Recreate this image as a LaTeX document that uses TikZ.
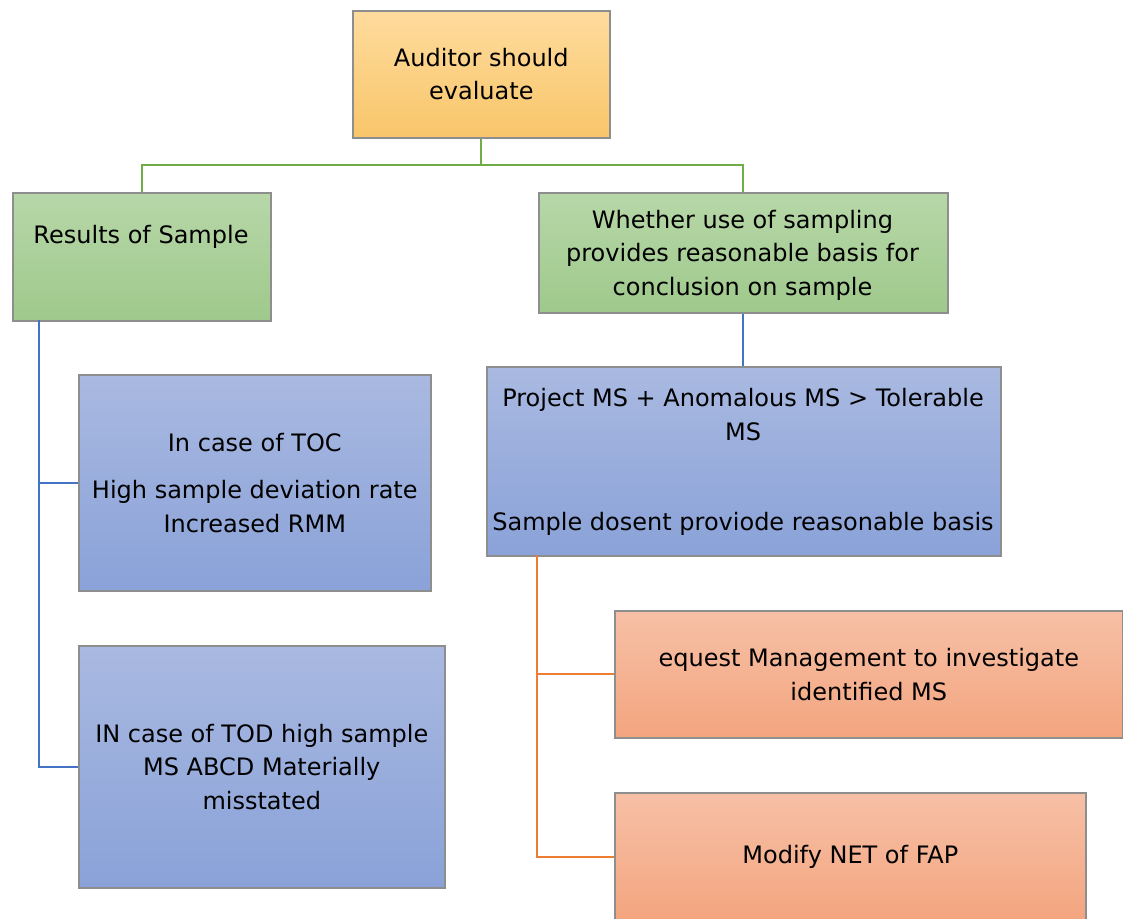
\documentclass[tikz,border=0pt]{standalone}
\usepackage{fontspec}
\setmainfont{DejaVu Sans}
\definecolor{boxline}{HTML}{8E8E8E}
\definecolor{ytop}{HTML}{FFDB9D}
\definecolor{ybot}{HTML}{F8C66A}
\definecolor{gtop}{HTML}{B7D7A8}
\definecolor{gbot}{HTML}{9FC98C}
\definecolor{btop}{HTML}{A9B9E1}
\definecolor{bbot}{HTML}{8AA2D8}
\definecolor{otop}{HTML}{F7C0A6}
\definecolor{obot}{HTML}{F3A57F}
\definecolor{gline}{HTML}{70AD47}
\definecolor{bline}{HTML}{4472C4}
\definecolor{oline}{HTML}{ED7D31}
\begin{document}
\begin{tikzpicture}[x=1pt,y=-1pt,
  box/.style={draw=boxline, line width=1.6pt, inner sep=0pt, anchor=north west},
  ybox/.style={box, top color=ytop, bottom color=ybot},
  gbox/.style={box, top color=gtop, bottom color=gbot},
  bbox/.style={box, top color=btop, bottom color=bbot},
  obox/.style={box, top color=otop, bottom color=obot},
  txt/.style={inner sep=0pt, align=center, font=\fontsize{24}{33.5}\selectfont},
  link/.style={line width=2pt}]
\useasboundingbox (0,0) rectangle (1123,918);
\clip (0,0) rectangle (1123,918);

% boxes
\node[ybox, minimum width=257pt, minimum height=127pt] (top) at (352,10) {};
\node[gbox, minimum width=258pt, minimum height=128pt] (res) at (12,192) {};
\node[gbox, minimum width=409pt, minimum height=120pt] (whe) at (538,192) {};
\node[bbox, minimum width=352pt, minimum height=216pt] (toc) at (78,374) {};
\node[bbox, minimum width=366pt, minimum height=242pt] (tod) at (78,645) {};
\node[bbox, minimum width=514pt, minimum height=189pt] (pro) at (486,366) {};
\node[obox, minimum width=508pt, minimum height=127pt] (req) at (614,610) {};
\node[obox, minimum width=471pt, minimum height=128pt] (mod) at (614,792) {};

% texts
\node[txt] (ttop) at (top.center) {Auditor should\\evaluate};
\node[txt] (tres) at (141,237) {Results of Sample};
\node[txt] (twhe) at (742.5,255) {Whether use of sampling\\provides reasonable basis for\\conclusion on sample};
\node[txt] (ttoc) at (toc.center) {In case of TOC\\[14pt]High sample deviation rate\\Increased RMM};
\node[txt] (ttod) at (tod.center) {IN case of TOD high sample\\MS ABCD Materially\\misstated};
\node[txt] (tpro) at (743,414.5) {Project MS + Anomalous MS > Tolerable\\MS};
\node[txt] (tpro2) at (743,524) {Sample dosent proviode reasonable basis};
\node[txt] (treq) at (req.center) {equest Management to investigate\\identified MS};
\node[txt] (tmod) at (mod.center) {Modify NET of FAP};

% connectors
\draw[link, gline] (top.south) -- ++(0,26) coordinate (gj);
\draw[link, gline] (gj) -| (res.north);
\draw[link, gline] (gj) -| (whe.north);

\coordinate (bl) at (39,320);
\draw[link, bline] (bl) |- (toc.west);
\draw[link, bline] (bl) |- (tod.west);
\draw[link, bline] (whe.south) -- (whe.south |- pro.north);

\coordinate (ol) at (537,555);
\draw[link, oline] (ol) |- (req.west);
\draw[link, oline] (ol) |- (mod.west);
\end{tikzpicture}
\end{document}
